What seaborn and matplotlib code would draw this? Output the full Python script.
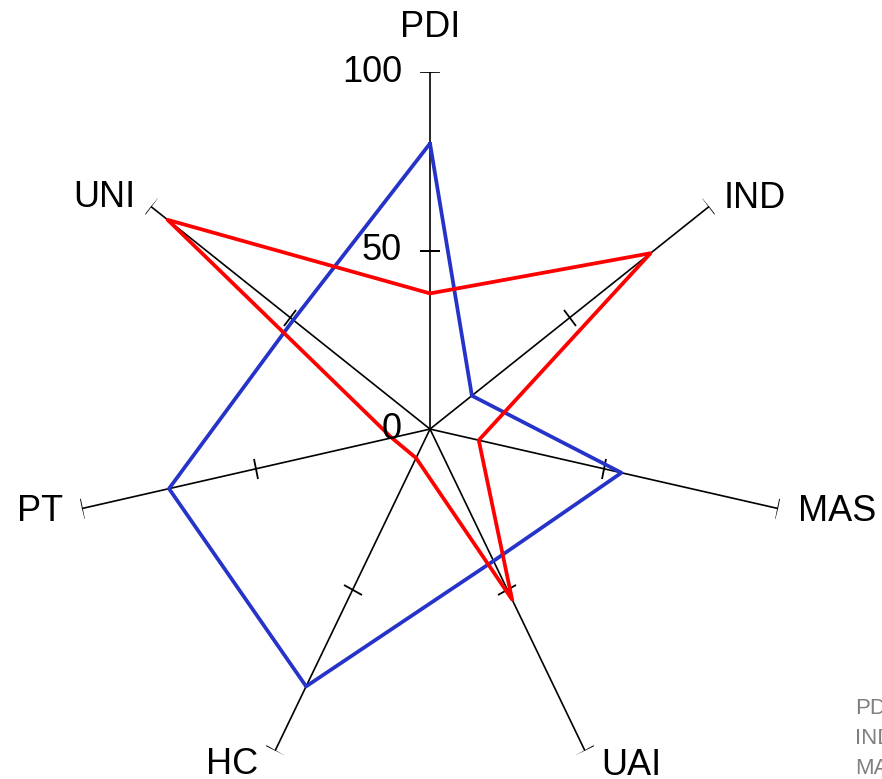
import numpy as np
import pandas as pd
import seaborn as sns
import matplotlib.pyplot as plt
from matplotlib.markers import MarkerStyle
from matplotlib.transforms import Affine2D

categories = ["PDI", "IND", "MAS", "UAI", "HC", "PT", "UNI"]
blue_values = [80, 15, 55, 41, 80, 75, 49]
red_values = [38, 79, 14, 53, 9, 11, 94]
tick_values = [0, 50, 100]
legend_items = ["PDI", "IND", "MAS"]

sns.set_style("white")
plt.rcParams["font.family"] = ["Liberation Sans", "DejaVu Sans"]
plt.rcParams["text.color"] = "black"

n = len(categories)
angles = np.arange(n) * 2 * np.pi / n

rows = []
for group, vals in [("blue", blue_values), ("red", red_values)]:
    for k in list(range(n)) + [0]:
        rows.append({"group": group, "theta": angles[k], "value": vals[k]})
df = pd.DataFrame(rows)

fig = plt.figure(figsize=(8.82, 7.79), dpi=100)
# centre at (430, 429) px, radius 357 px
ax = fig.add_axes([0.0828, -0.0091, 0.8095, 0.9166], projection="polar")
ax.set_theta_zero_location("N")
ax.set_theta_direction(-1)
ax.set_ylim(0, 100)
ax.axis("off")

# spokes with caps at 50 and 100
for a in angles:
    ax.plot([a, a], [0, 100], color="black", lw=1.2, zorder=1)
    cap = MarkerStyle("_", transform=Affine2D().rotate_deg(-np.degrees(a)))
    ax.plot([a, a], [50, 100], linestyle="none", marker=cap, markersize=15,
            markeredgecolor="black", markeredgewidth=1.3, zorder=1)

sns.lineplot(data=df, x="theta", y="value", hue="group", sort=False,
             estimator=None, palette={"blue": "#2633C8", "red": "#FF0000"},
             linewidth=2.7, legend=False, ax=ax, zorder=2)
ax.set_xlabel("")
ax.set_ylabel("")

# tick labels left of the PDI spoke
for t in tick_values:
    ax.annotate(str(t), xy=(0, t), xytext=(-28, 0), textcoords="offset pixels",
                ha="right", va="center", fontsize=26, color="black", zorder=3)

# category labels (angle in degrees, radius)
label_pos = [(0, 112.6), (54.6, 111.7), (101.5, 116.3), (149.1, 109.7),
             (210.5, 109.2), (258.0, 111.7), (305.4, 112.0)]
for name, (deg, r) in zip(categories, label_pos):
    ax.text(np.radians(deg), r, name, ha="center", va="center", fontsize=26,
            color="black", clip_on=False)

# legend text clipped at the figure edge
for i, name in enumerate(legend_items):
    fig.text(855 / 882, 1 - (708 + 30 * i) / 779, name, ha="left", va="center",
             fontsize=16, color="#808080")

fig.savefig("out.png", dpi=100)
